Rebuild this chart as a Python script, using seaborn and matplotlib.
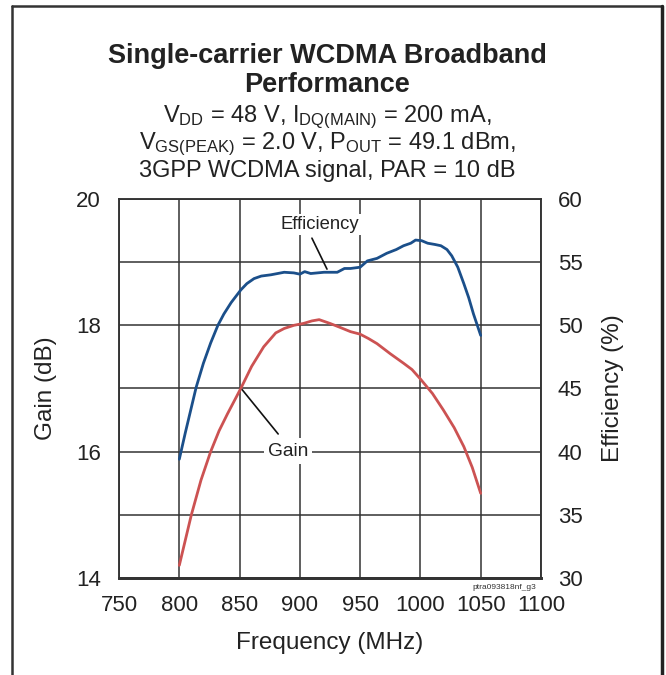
"""
Single-carrier WCDMA broadband performance: gain and efficiency vs frequency
"""

import numpy as np
import pandas as pd
import matplotlib
matplotlib.use('Agg')
import matplotlib.pyplot as plt
from matplotlib.lines import Line2D
import seaborn as sns

# Данные
eff_freq = [800, 805, 810, 814, 820, 826, 832, 837, 843, 851, 856, 862, 868, 876,
            887, 895, 900, 904, 909, 920, 931, 937, 942, 950, 956, 964, 972, 980,
            986, 992, 996, 1001, 1006, 1012, 1017, 1022, 1026, 1031, 1036, 1040,
            1044, 1050]
eff_vals = [39.4, 41.5, 43.5, 45.1, 47.0, 48.6, 50.0, 50.9, 51.8, 52.8, 53.3, 53.7,
            53.9, 54.0, 54.2, 54.15, 54.05, 54.25, 54.1, 54.2, 54.2, 54.5, 54.5,
            54.6, 55.1, 55.3, 55.7, 56.0, 56.3, 56.5, 56.75, 56.7, 56.5, 56.4, 56.3,
            56.0, 55.5, 54.6, 53.3, 52.2, 50.9, 49.2]

gain_freq = [800, 805, 810, 818, 826, 833, 840, 851, 860, 870, 880, 887, 895, 903,
             910, 916, 925, 933, 942, 950, 957, 964, 975, 986, 993, 1000, 1010,
             1019, 1028, 1036, 1043, 1050]
gain_vals = [14.2, 14.6, 15.0, 15.55, 16.0, 16.33, 16.6, 17.0, 17.35, 17.66, 17.88,
             17.95, 18.0, 18.03, 18.07, 18.09, 18.03, 17.97, 17.9, 17.86, 17.79,
             17.71, 17.55, 17.4, 17.3, 17.15, 16.92, 16.66, 16.38, 16.08, 15.75, 15.34]

x_ticks = [750, 800, 850, 900, 950, 1000, 1050, 1100]
gain_ticks = [14, 16, 18, 20]
eff_ticks = [30, 35, 40, 45, 50, 55, 60]

BLUE = '#1b4f8a'
RED = '#cc5252'
GRID = '#333333'
TXT = '#222222'

sns.set_theme(style='white')
plt.rcParams['font.family'] = ['Liberation Sans', 'DejaVu Sans']
plt.rcParams['mathtext.fontset'] = 'custom'
plt.rcParams['mathtext.rm'] = 'Liberation Sans'
plt.rcParams['mathtext.it'] = 'Liberation Sans'

df_gain = pd.DataFrame({'freq': gain_freq, 'gain': gain_vals})
df_eff = pd.DataFrame({'freq': eff_freq, 'eff': eff_vals})

fig = plt.figure(figsize=(6.66, 6.75), dpi=100)
ax = fig.add_axes([0.1787, 0.1437, 0.6336, 0.5615])
ax2 = ax.twinx()

# Сетка
ax.set_xlim(750, 1100)
ax.set_ylim(14, 20)
ax2.set_ylim(30, 60)
ax.set_xticks(x_ticks)
ax.set_yticks(gain_ticks)
ax.set_yticks(np.arange(15, 20, 2), minor=True)
ax2.set_yticks(eff_ticks)
ax.grid(True, which='both', axis='y', color=GRID, lw=1.1)
ax.grid(True, which='major', axis='x', color=GRID, lw=1.1)
ax.set_axisbelow(True)

sns.lineplot(data=df_gain, x='freq', y='gain', ax=ax, color=RED, lw=2.0, zorder=3)
sns.lineplot(data=df_eff, x='freq', y='eff', ax=ax2, color=BLUE, lw=2.0, zorder=3)

for a in (ax, ax2):
    for s in a.spines.values():
        s.set_color(GRID)
        s.set_linewidth(1.1)
    a.spines['bottom'].set_linewidth(2.0)
ax.tick_params(axis='both', which='both', length=0, labelsize=16, colors=TXT)
ax.tick_params(axis='y', pad=13)
ax.tick_params(axis='x', pad=12)
ax2.tick_params(axis='y', length=0, labelsize=16, pad=12, colors=TXT)

ax.set_xlabel('Frequency (MHz)', fontsize=17.5, labelpad=12, color=TXT)
ax.set_ylabel('Gain (dB)', fontsize=17.5, labelpad=14, color=TXT)
ax2.set_ylabel('Efficiency (%)', fontsize=17.5, labelpad=14, color=TXT)

# Подписи кривых
ax.text(916.7, 19.59, 'Efficiency', fontsize=13.3, ha='center', va='center', color=TXT,
        bbox=dict(facecolor='white', edgecolor='none', pad=1.5), zorder=5)
ax.annotate('', xy=(922.5, 18.89), xytext=(910.0, 19.38),
            arrowprops=dict(arrowstyle='-', lw=1.2, color='#111111', shrinkA=0, shrinkB=0))
ax.text(890.2, 16.01, 'Gain', fontsize=13.8, ha='center', va='center', color=TXT,
        bbox=dict(facecolor='white', edgecolor='none', pad=3), zorder=5)
ax.annotate('', xy=(852.2, 16.98), xytext=(882.0, 16.28),
            arrowprops=dict(arrowstyle='-', lw=1.2, color='#111111', shrinkA=0, shrinkB=0))
ax.text(1096, 13.9, 'ptra093818nf_g3', fontsize=6, ha='right', va='top', color='#333333')

# Заголовок
fig.text(0.491, 1 - 63 / 675, 'Single-carrier WCDMA Broadband', fontsize=19.5,
         fontweight='bold', ha='center', va='baseline', color=TXT)
fig.text(0.491, 1 - 92 / 675, 'Performance', fontsize=19.5, fontweight='bold',
         ha='center', va='baseline', color=TXT)
sub = ['$\\mathregular{V_{DD}}$ = 48 V, $\\mathregular{I_{DQ(MAIN)}}$ = 200 mA,',
       '$\\mathregular{V_{GS(PEAK)}}$ = 2.0 V, $\\mathregular{P_{OUT}}$ = 49.1 dBm,',
       '3GPP WCDMA signal, PAR = 10 dB']
for line, yy in zip(sub, [122, 149, 177]):
    fig.text(0.491, 1 - yy / 675, line, fontsize=17, ha='center', va='baseline', color=TXT)

# Рамка
fig.add_artist(Line2D([12 / 666, 662 / 666], [1 - 6 / 675] * 2, color='#333333', lw=1.8))
fig.add_artist(Line2D([12 / 666] * 2, [0, 1 - 6 / 675], color='#333333', lw=1.8))
fig.add_artist(Line2D([662 / 666] * 2, [0, 1 - 6 / 675], color='#222222', lw=2.5))

plt.savefig('out.png', dpi=100)
plt.close()
